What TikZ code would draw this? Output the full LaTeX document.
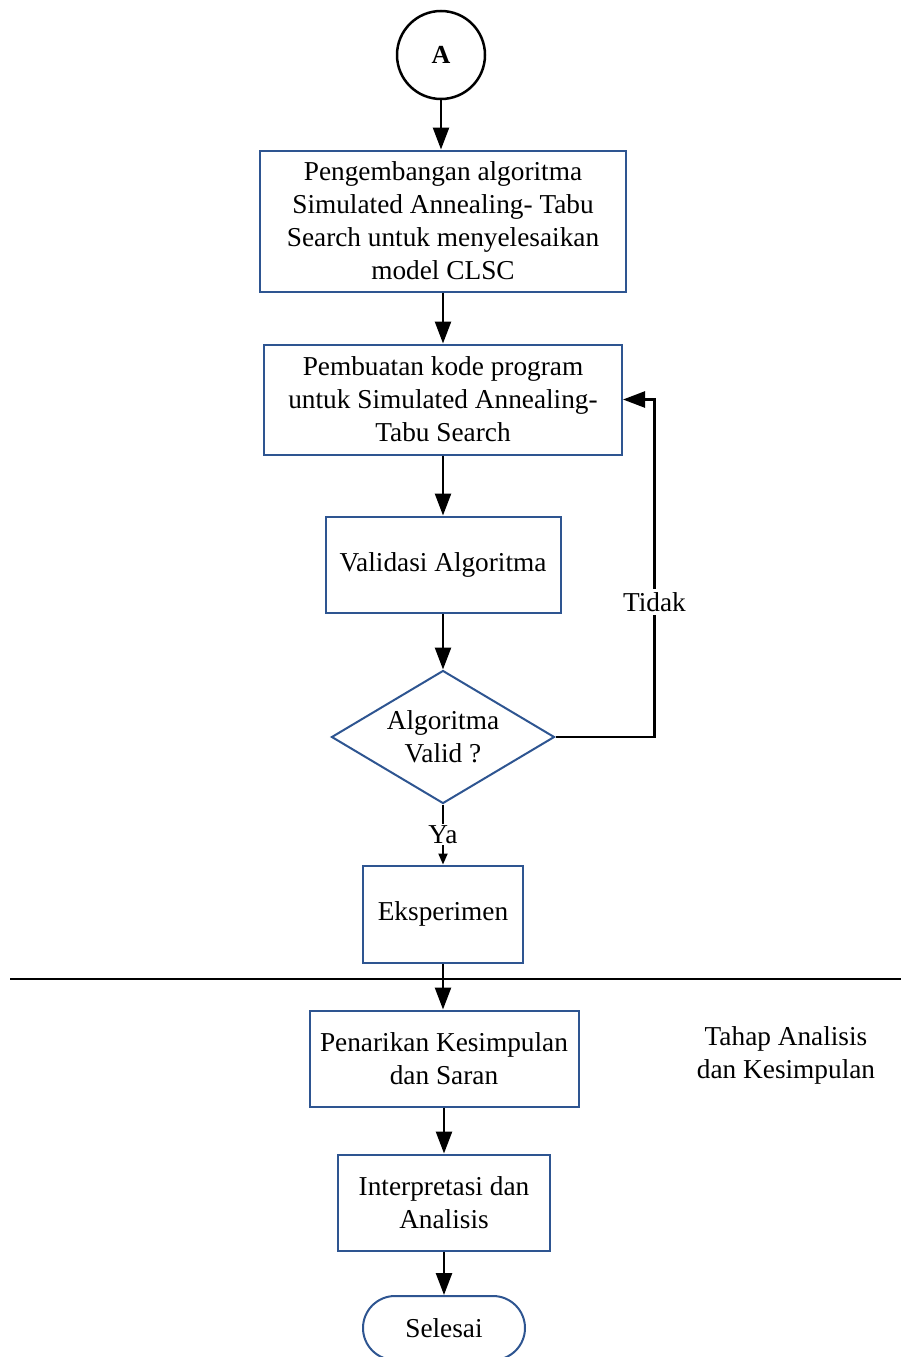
\documentclass[tikz,border=0pt]{standalone}
\usepackage{fontspec}
\setmainfont{Liberation Serif}
\usetikzlibrary{arrows.meta, positioning, shapes.geometric, calc}
\definecolor{ink}{HTML}{000000}
\definecolor{frame}{HTML}{2E5591}
\tikzset{
  box/.style={rectangle, draw=frame, fill=white, line width=2pt, align=center,
              inner sep=3pt, text=ink, font=\fontsize{27.3}{33}\selectfont},
  decide/.style={diamond, draw=frame, fill=white, line width=2pt, align=center,
                 inner sep=0pt, aspect=1.68, minimum width=223pt, minimum height=133pt,
                 text=ink, font=\fontsize{27.3}{33}\selectfont},
  stopbox/.style={box, rounded corners=32pt},
  fl/.style={-{Triangle[length=22pt, width=16pt]}, line width=2.5pt, draw=ink},
  flsm/.style={-{Triangle[length=11pt, width=9pt]}, line width=2pt, draw=ink},
}
\begin{document}
\begin{tikzpicture}[x=1pt, y=1pt]
  \useasboundingbox (0,0) rectangle (901,-1357);
  \node[circle, draw=ink, line width=2.5pt, minimum size=88pt, inner sep=0pt,
        font=\fontsize{26}{30}\selectfont\bfseries] (a) at (441,-55) {A};
  \node[box, minimum width=366pt, minimum height=141pt] (dev) at (443,-221)
    {Pengembangan algoritma\\Simulated Annealing- Tabu\\Search untuk menyelesaikan\\model CLSC};
  \node[box, minimum width=358pt, minimum height=110pt] (code) at (443,-399.5)
    {Pembuatan kode program\\untuk Simulated Annealing-\\Tabu Search};
  \node[box, minimum width=235pt, minimum height=96pt] (val) at (443,-564.5)
    {Validasi Algoritma};
  \node[decide] (ok) at (443,-737) {Algoritma\\Valid ?};
  \node[box, minimum width=160pt, minimum height=97pt] (eks) at (443,-914)
    {Eksperimen};
  \node[box, minimum width=269pt, minimum height=96pt] (pen) at (444,-1058.5)
    {Penarikan Kesimpulan\\dan Saran};
  \node[box, minimum width=212pt, minimum height=96pt] (intp) at (444,-1202.5)
    {Interpretasi dan\\Analisis};
  \node[stopbox, minimum width=162pt, minimum height=64pt] (end) at (444,-1328)
    {Selesai};
  \node[align=center, font=\fontsize{27.3}{33}\selectfont] (stage) at (786,-1055)
    {Tahap Analisis\\dan Kesimpulan};
  % stage divider
  \coordinate (sepl) at (10,-979);
  \coordinate (sepr) at (901,-979);
  \draw[line width=2.5pt] (sepl) -- (sepr);
  \draw[fl] (a) -- (a |- dev.north);
  \draw[fl] (dev) -- (code);
  \draw[fl] (code) -- (val);
  \draw[fl] (val) -- (ok);
  \draw[flsm] (ok) -- node[fill=white, text=ink, font=\fontsize{27.3}{33}\selectfont,
                          inner sep=1pt] {Ya} (eks);
  \draw[fl] (ok.east) -- ++(99,0) |- node[pos=0.2, fill=white, text=ink, inner sep=3pt,
        font=\fontsize{27.3}{33}\selectfont] {Tidak} (code.east);
  \draw[fl] (eks) -- (eks |- pen.north);
  \draw[fl] (pen) -- (intp);
  \draw[fl] (intp) -- (end);
\end{tikzpicture}
\end{document}
